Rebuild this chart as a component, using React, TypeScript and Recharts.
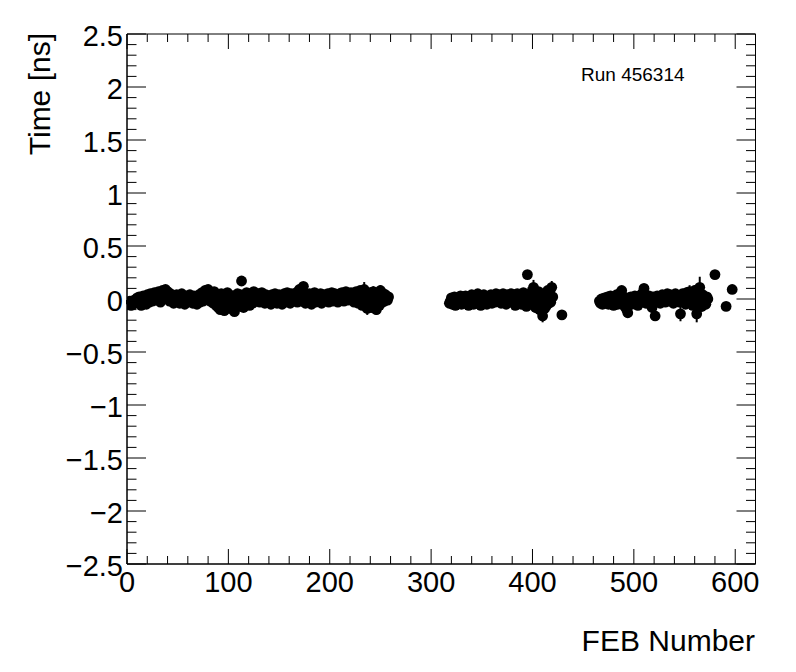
import React from 'react';
import { ScatterChart, Scatter, XAxis, YAxis, ErrorBar, ReferenceArea } from 'recharts';

// ---- axis ticks / labels ----
const xMajorTicks = [0, 100, 200, 300, 400, 500, 600];
const yMajorTicks = [-2.5, -2, -1.5, -1, -0.5, 0, 0.5, 1, 1.5, 2, 2.5];
const yTickLabels = ['\u22122.5', '\u22122', '\u22121.5', '\u22121', '\u22120.5', '0', '0.5', '1', '1.5', '2', '2.5'];
const xTitle = 'FEB Number';
const yTitle = 'Time [ns]';
const runLabel = 'Run 456314';

// ---- data: FEB timing (ns), consecutive FEBs starting at the given FEB ----
const region1Start = 0;
const region1Times = [
  -0.03, -0.05, -0.04, -0.02, -0.06, -0.03, -0.05, -0.01, -0.04, -0.02,
  0.01, -0.03, 0.02, -0.04, -0.06, 0.0, 0.03, -0.02, 0.01, -0.05,
  0.04, 0.02, -0.03, 0.05, 0.01, -0.02, 0.03, 0.06, -0.01, 0.02,
  0.05, 0.07, 0.02, -0.03, 0.04, 0.08, 0.03, 0.06, 0.09, 0.04,
  0.07, 0.02, -0.02, 0.05, 0.01, 0.03, -0.04, 0.02, 0.0, 0.04,
  -0.02, 0.03, -0.04, 0.01, 0.05, -0.01, 0.02, -0.05, 0.0, 0.03,
  -0.03, 0.01, 0.04, -0.02, 0.0, -0.04, 0.03, -0.01, 0.02, -0.05,
  0.01, 0.04, -0.03, 0.02, 0.06, -0.02, 0.03, 0.08, 0.01, 0.05,
  0.09, 0.03, -0.02, 0.06, 0.02, -0.04, 0.07, 0.01, -0.06, 0.04,
  -0.08, 0.02, -0.1, 0.05, -0.03, 0.0, -0.11, 0.03, -0.05, 0.06,
  -0.02, 0.04, -0.09, 0.01, -0.06, 0.03, -0.12, 0.02, -0.04, 0.05,
  -0.07, 0.0, 0.04, 0.17, -0.03, -0.08, 0.02, -0.05, 0.06, -0.02,
  0.03, -0.06, 0.05, 0.01, -0.04, 0.07, 0.02, -0.02, 0.04, 0.0,
  0.05, -0.03, 0.02, 0.06, -0.01, 0.03, -0.04, 0.04, 0.01, -0.02,
  0.03, 0.0, -0.05, 0.04, 0.02, -0.03, 0.05, 0.01, -0.04, 0.02,
  0.04, -0.02, 0.03, -0.05, 0.01, 0.05, -0.03, 0.02, 0.06, -0.01,
  0.03, -0.04, 0.05, 0.01, -0.02, 0.04, 0.0, 0.06, -0.03, 0.02,
  0.09, 0.03, -0.02, 0.05, 0.12, 0.01, -0.04, 0.04, 0.02, -0.01,
  0.05, 0.02, -0.05, 0.03, 0.0, 0.06, -0.03, 0.02, 0.04, -0.02,
  0.01, 0.05, -0.04, 0.02, 0.04, -0.01, 0.03, 0.0, 0.05, -0.03,
  0.04, 0.01, 0.06, -0.02, 0.03, 0.05, 0.0, 0.04, -0.03, 0.02,
  0.05, 0.02, 0.06, 0.01, -0.02, 0.04, 0.07, 0.03, -0.01, 0.05,
  0.02, 0.06, 0.0, 0.04, -0.03, 0.05, 0.07, 0.02, -0.04, 0.03,
  0.08, 0.01, -0.06, 0.05, 0.09, -0.02, 0.03, -0.09, 0.04, -0.05,
  0.06, -0.08, 0.02, 0.07, -0.04, 0.03, -0.1, 0.05, 0.01, -0.06,
  0.08, 0.02, -0.03, 0.05, -0.02, 0.04, 0.0, -0.01, 0.02,
];

const region2Start = 318;
const region2Times = [
  -0.04, -0.02, 0.01, -0.05, -0.03, 0.02, -0.06, 0.0, -0.04, 0.01,
  -0.02, 0.03, -0.05, -0.01, 0.02, -0.04, 0.03, -0.02, 0.0, -0.06,
  0.02, -0.03, 0.04, -0.01, -0.05, 0.03, 0.0, -0.04, 0.05, -0.02,
  0.01, -0.06, 0.03, -0.01, 0.04, -0.03, 0.02, -0.05, 0.01, 0.03,
  -0.02, 0.04, -0.04, 0.01, 0.03, -0.03, 0.05, 0.0, -0.02, 0.04,
  0.01, -0.04, 0.03, 0.05, -0.01, 0.02, -0.05, 0.04, 0.0, 0.03,
  -0.03, 0.05, 0.01, -0.02, 0.04, -0.06, 0.02, 0.05, -0.03, 0.01,
  0.04, -0.05, 0.03, 0.06, -0.02, 0.02, -0.07, 0.23, 0.04, -0.04,
  0.02, 0.06, -0.05, 0.11, 0.01, -0.08, 0.05, -0.03, 0.07, -0.1,
  0.03, -0.06, -0.16, 0.04, -0.09, 0.02, -0.06, 0.08, -0.04, 0.05,
  -0.03, 0.11, 0.02,
];

const region3Start = 466;
const region3Times = [
  -0.02, -0.04, 0.0, -0.05, -0.03, 0.01, -0.04, -0.02, 0.02, -0.05,
  -0.01, 0.03, -0.04, 0.0, -0.06, 0.02, -0.03, 0.04, -0.05, 0.01,
  0.05, -0.02, 0.08, -0.04, 0.02, -0.07, 0.0, -0.1, -0.13, 0.01,
  -0.03, 0.02, -0.05, 0.0, -0.02, 0.03, -0.04, 0.01, -0.06, 0.02,
  -0.01, 0.04, -0.03, 0.06, 0.1, 0.02, -0.04, 0.0, -0.02, 0.03,
  -0.05, 0.01, -0.08, 0.02, -0.03, -0.16, 0.0, 0.03, -0.02, 0.01,
  -0.04, 0.02, 0.04, -0.01, 0.03, -0.03, 0.01, 0.05, -0.02, 0.02,
  0.04, -0.01, 0.03, -0.04, 0.01, 0.05, -0.02, 0.03, 0.0, -0.03,
  -0.14, 0.02, 0.05, -0.02, 0.03, -0.05, 0.06, 0.01, -0.03, 0.07,
  0.0, 0.04, -0.06, 0.03, 0.08, -0.04, -0.14, 0.05, -0.02, 0.11,
  0.02, -0.07, 0.04, -0.03, 0.01, -0.05, 0.02, 0.0,
];

const isolatedFebs = [429, 580, 591, 597];
const isolatedTimes = [-0.15, 0.23, -0.07, 0.09];

// typical (hidden-behind-marker) uncertainty and the visibly larger ones
const typicalError = 0.02;
const largeErrorFebs = [234, 237, 243, 246, 250, 396, 401, 403, 407, 410, 419, 546, 552, 555, 560, 562, 565, 567];
const largeErrors = [0.07, 0.06, 0.05, 0.05, 0.05, 0.07, 0.07, 0.05, 0.05, 0.06, 0.06, 0.07, 0.05, 0.06, 0.05, 0.08, 0.1, 0.05];

type Pt = { feb: number; time: number; err: number };

function errFor(feb: number): number {
  const i = largeErrorFebs.indexOf(feb);
  return i >= 0 ? largeErrors[i] : typicalError;
}

const points: Pt[] = [];
const addRegion = (start: number, times: number[]) => {
  times.forEach((t, i) => points.push({ feb: start + i, time: t, err: errFor(start + i) }));
};
addRegion(region1Start, region1Times);
addRegion(region2Start, region2Times);
addRegion(region3Start, region3Times);
isolatedFebs.forEach((f, i) => points.push({ feb: f, time: isolatedTimes[i], err: errFor(f) }));

// ---- layout ----
const W = 796;
const H = 672;
const PLOT_LEFT = 127;
const PLOT_TOP = 34;
const PLOT_RIGHT = 755.5;
const PLOT_BOTTOM = 564;
const PLOT_W = PLOT_RIGHT - PLOT_LEFT;
const PLOT_H = PLOT_BOTTOM - PLOT_TOP;
const FONT = '"Liberation Sans", Arial, Helvetica, sans-serif';

const xDomain: [number, number] = [0, 620];
const yDomain: [number, number] = [-2.5, 2.5];

const xTicks: number[] = [];
for (let v = 0; v <= 620; v += 20) xTicks.push(v);
const yTicks: number[] = [];
for (let i = -25; i <= 25; i++) yTicks.push(Math.round(i) / 10);

const XTick = (props: any) => {
  const { x, y, payload } = props;
  const v = payload.value;
  const major = xMajorTicks.includes(v);
  const len = major ? 15 : 8;
  return (
    <g>
      <line x1={x} y1={y} x2={x} y2={y - len} stroke="#000" strokeWidth={1} />
      <line x1={x} y1={y - PLOT_H} x2={x} y2={y - PLOT_H + len} stroke="#000" strokeWidth={1} />
      {major && (
        <text x={x} y={y + 28} textAnchor="middle" fontSize={29} fontFamily={FONT} fill="#000">
          {String(v)}
        </text>
      )}
    </g>
  );
};

const YTick = (props: any) => {
  const { x, y, payload } = props;
  const v = payload.value;
  const idx = yMajorTicks.findIndex((m) => Math.abs(m - v) < 1e-6);
  const major = idx >= 0;
  const len = major ? 19 : 9.5;
  return (
    <g>
      <line x1={x} y1={y} x2={x + len} y2={y} stroke="#000" strokeWidth={1} />
      <line x1={x + PLOT_W} y1={y} x2={x + PLOT_W - len} y2={y} stroke="#000" strokeWidth={1} />
      {major && (
        <text x={x - 4} y={y + 12} textAnchor="end" fontSize={29} fontFamily={FONT} fill="#000">
          {yTickLabels[idx]}
        </text>
      )}
    </g>
  );
};

const Marker = (props: any) => {
  const { cx, cy } = props;
  if (cx == null || cy == null) return null;
  return <circle cx={cx} cy={cy} r={5.4} fill="#000" />;
};

export default function App() {
  return (
    <div style={{ position: 'absolute', left: 0, top: 0, width: W, height: H, background: '#fff' }}>
      <ScatterChart
        width={W}
        height={H}
        margin={{ top: PLOT_TOP, right: W - PLOT_RIGHT, bottom: 68, left: 0 }}
      >
        <XAxis
          type="number"
          dataKey="feb"
          domain={xDomain}
          ticks={xTicks}
          interval={0}
          allowDataOverflow
          tickLine={false}
          tickSize={0}
          tickMargin={0}
          axisLine={{ stroke: '#000' }}
          tick={<XTick />}
          height={H - 68 - PLOT_BOTTOM}
        />
        <YAxis
          type="number"
          dataKey="time"
          domain={yDomain}
          ticks={yTicks}
          interval={0}
          allowDataOverflow
          tickLine={false}
          tickSize={0}
          tickMargin={0}
          axisLine={{ stroke: '#000' }}
          tick={<YTick />}
          width={PLOT_LEFT}
        />
        <ReferenceArea
          x1={xDomain[0]}
          x2={xDomain[1]}
          y1={yDomain[0]}
          y2={yDomain[1]}
          fill="none"
          fillOpacity={0}
          stroke="#000"
          strokeWidth={1}
          ifOverflow="visible"
        />
        <Scatter data={points} shape={<Marker />} isAnimationActive={false}>
          <ErrorBar dataKey="err" direction="y" width={0} stroke="#000" strokeWidth={2} />
        </Scatter>
      </ScatterChart>
      <svg
        width={W}
        height={H}
        style={{ position: 'absolute', left: 0, top: 0, pointerEvents: 'none' }}
      >
        <text
          transform={`translate(50,33) rotate(-90)`}
          textAnchor="end"
          fontSize={30}
          fontFamily={FONT}
          fill="#000"
        >
          {yTitle}
        </text>
        <text x={755} y={651} textAnchor="end" fontSize={30} fontFamily={FONT} fill="#000">
          {xTitle}
        </text>
        <text x={581} y={81} textAnchor="start" fontSize={19} fontFamily={FONT} fill="#000">
          {runLabel}
        </text>
      </svg>
    </div>
  );
}
